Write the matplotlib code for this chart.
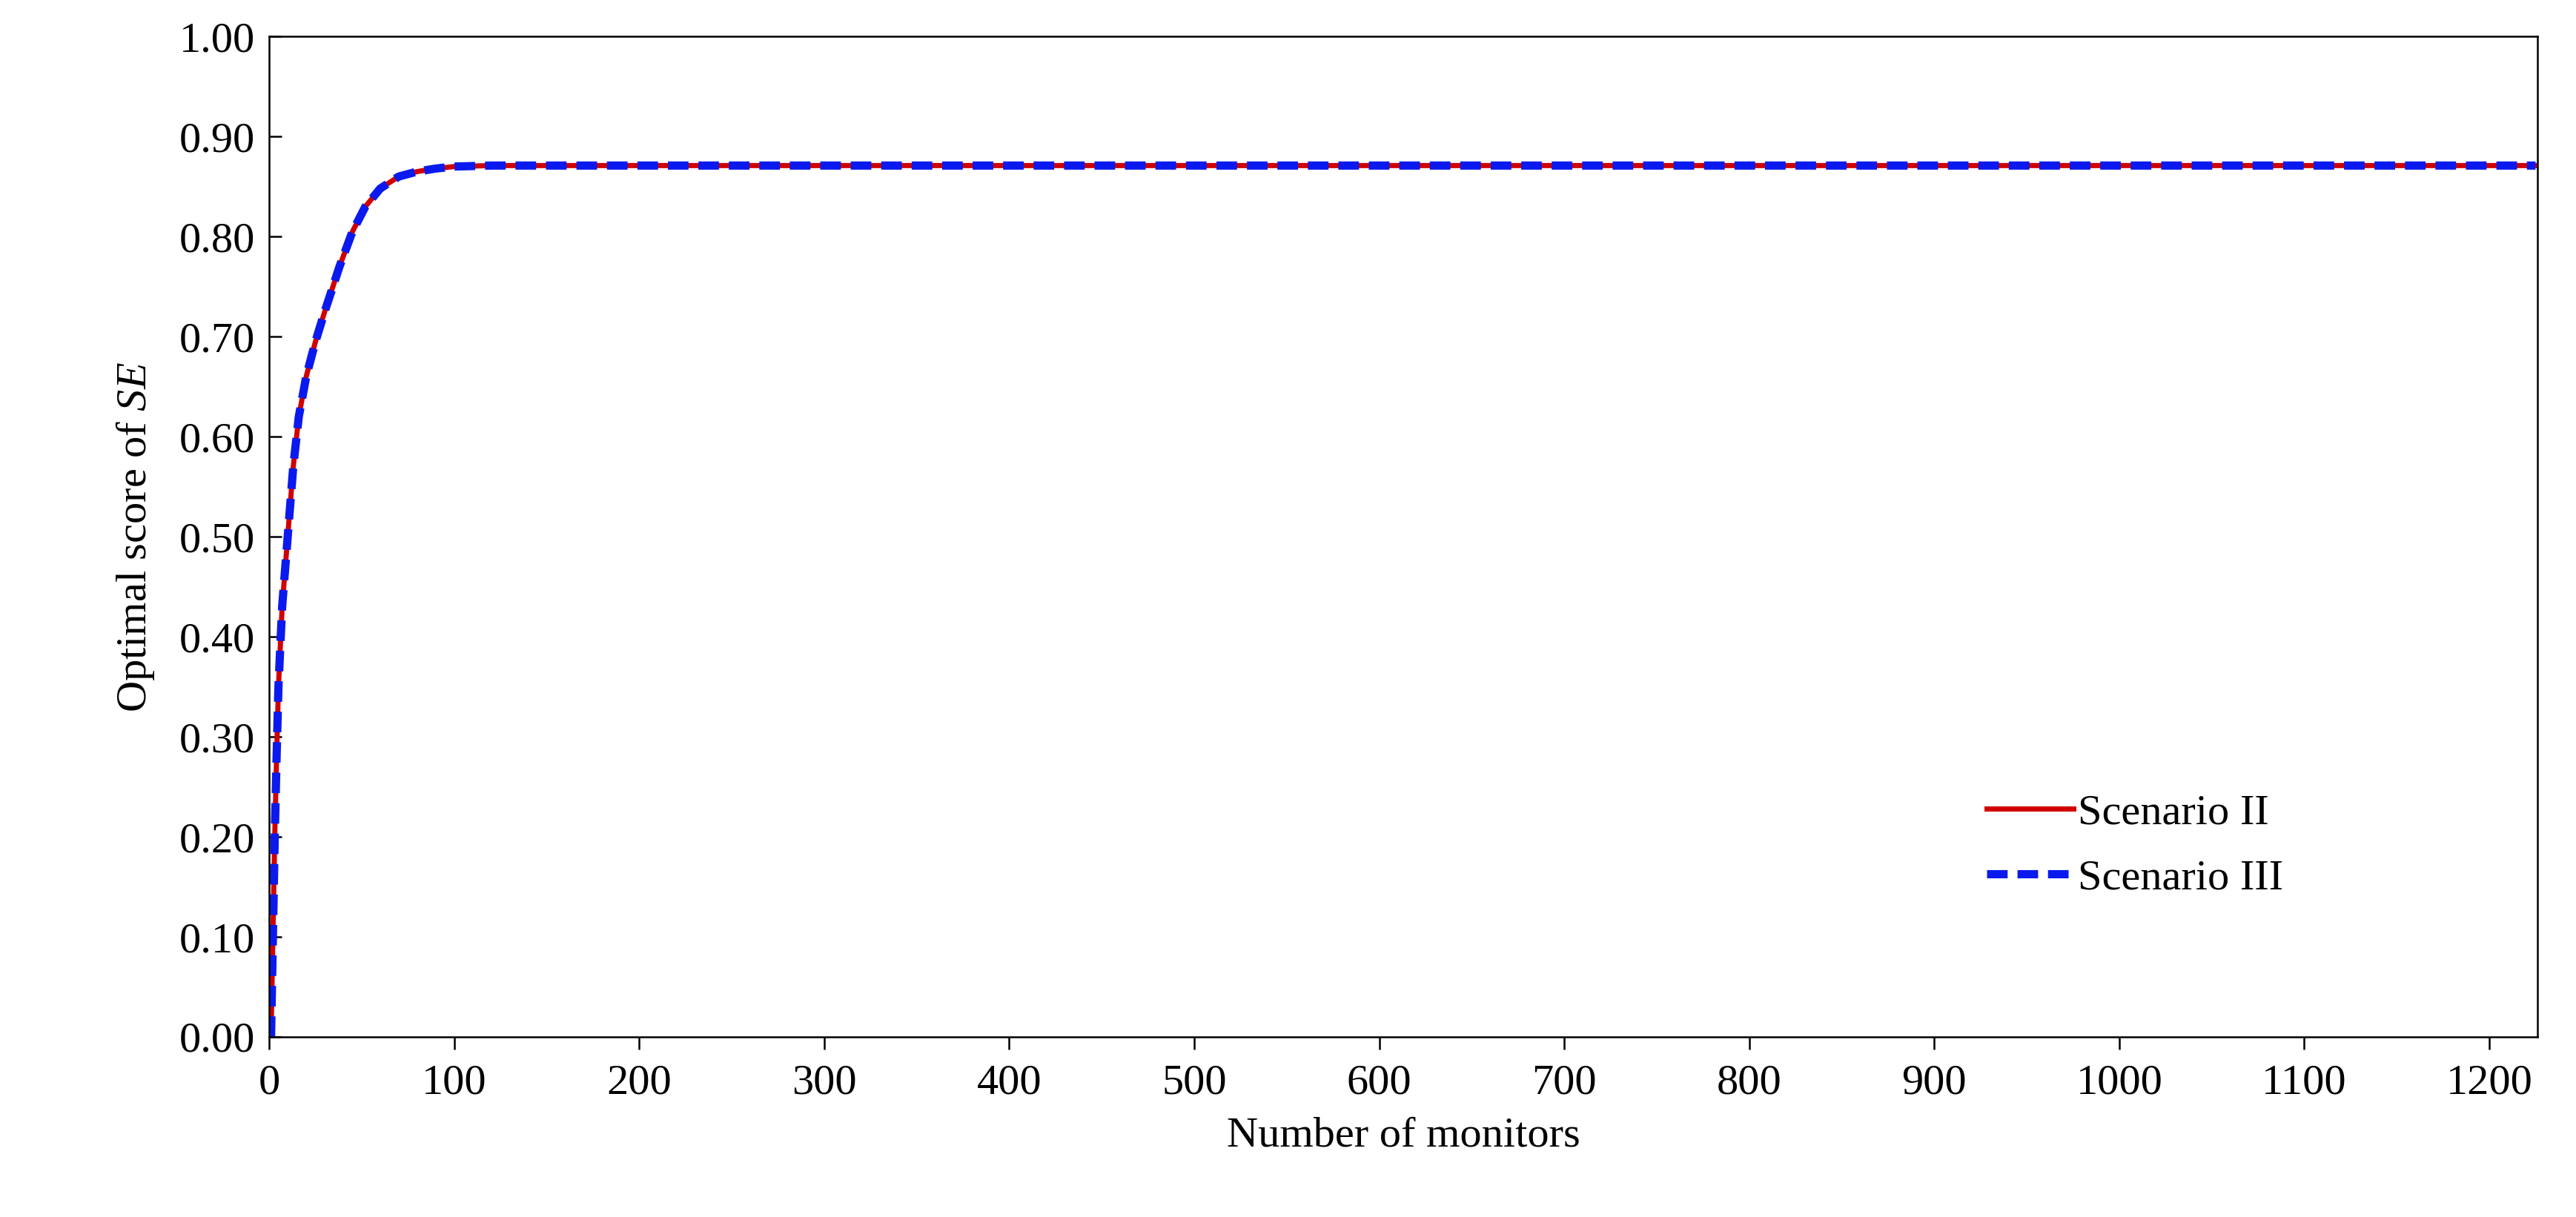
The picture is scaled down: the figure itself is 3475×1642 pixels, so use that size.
import matplotlib
matplotlib.use("Agg")
import matplotlib.pyplot as plt

monitors = [1, 2, 3, 4, 5, 7, 10, 13, 16, 20, 25, 30, 38, 45, 52, 60, 70, 80, 90, 100, 120, 150, 200, 300, 400, 500, 600, 700, 800, 900, 1000, 1100, 1225]
scenario_ii = [0.0, 0.10, 0.20, 0.28, 0.35, 0.43, 0.50, 0.57, 0.62, 0.66, 0.695, 0.725, 0.77, 0.805, 0.83, 0.848, 0.860, 0.865, 0.868, 0.870, 0.871, 0.871, 0.871, 0.871, 0.871, 0.871, 0.871, 0.871, 0.871, 0.871, 0.871, 0.871, 0.871]
scenario_iii = list(scenario_ii)

plt.rcParams['font.family'] = ['Liberation Serif', 'DejaVu Serif']
plt.rcParams['mathtext.fontset'] = 'custom'
plt.rcParams['mathtext.it'] = 'Liberation Serif:italic'
plt.rcParams['mathtext.rm'] = 'Liberation Serif'
fig = plt.figure(figsize=(34.75, 16.42), dpi=100)
ax = fig.add_axes([0.1045, 0.148, 0.8805, 0.822])
ax.plot(monitors, scenario_ii, color='#d00000', lw=5, label='Scenario II')
ax.plot(monitors, scenario_iii, color='#0a1aee', lw=8, ls=(0, (2.5, 1.2)), label='Scenario III')
ax.set_xlim(0, 1226)
ax.set_ylim(0, 1.0)
ax.set_xticks(range(0, 1201, 100))
ax.set_yticks([i / 10 for i in range(11)])
ax.set_yticklabels([f"{i/10:.2f}" for i in range(11)])
ax.tick_params(labelsize=42, length=12, width=1.8, direction='in', pad=14)
ax.tick_params(axis='x', direction='out')
for s in ax.spines.values():
    s.set_linewidth(1.8)
ax.set_xlabel('Number of monitors', fontsize=42, labelpad=14)
ax.set_ylabel('Optimal score of $\\mathit{SE}$', fontsize=42, labelpad=22)
ax.legend(loc='lower right', bbox_to_anchor=(0.905, 0.1), frameon=False, fontsize=42, handlelength=2.0, handletextpad=0.1, labelspacing=0.6)
fig.savefig('out.png', dpi=100)
